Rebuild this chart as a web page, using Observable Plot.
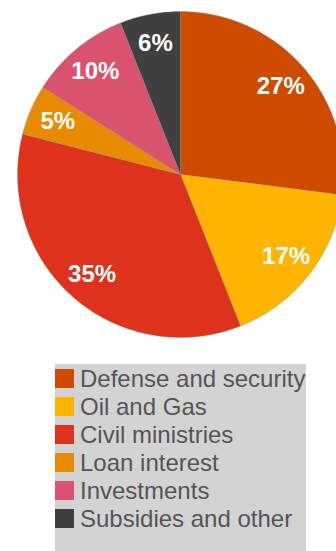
<!DOCTYPE html>
<html>
<head>
<meta charset="utf-8">
<script src="https://cdn.jsdelivr.net/npm/d3@7"></script>
<script src="https://cdn.jsdelivr.net/npm/@observablehq/plot@0.6"></script>
<style>
  html, body { margin: 0; padding: 0; background: #fff; width: 336px; height: 551px; overflow: hidden; }
  #chart svg { display: block; }
  .legend { margin-left: 55px; margin-top: 14px; width: 251px; height: 187px; background: #d3d3d3; padding-top: 1px; box-sizing: border-box; }
  .item { display: flex; align-items: flex-start; height: 28px; line-height: 28px; font-family: Arial, "Liberation Sans", sans-serif; font-size: 24px; color: #555; white-space: nowrap; }
  .sw { width: 19px; height: 19px; margin-top: 4px; margin-right: 6px; flex: none; }
</style>
</head>
<body>
<div id="chart"></div>
<script>
const categories = ["Defense and security", "Oil and Gas", "Civil ministries", "Loan interest", "Investments", "Subsidies and other"];
const shares = [27, 17, 35, 5, 10, 6];
const colors = ["#d04b02", "#ffb400", "#de321d", "#e88a02", "#d9526e", "#404040"];

const W = 336, H = 350, R = 163, CX = 180, CY = 174;
const arcs = d3.pie().sort(null).value(d => d)(shares);

// polygon outline points for each slice (unit radius; y up)
const poly = [];
arcs.forEach((a, i) => {
  const name = categories[i];
  poly.push({name, x: 0, y: 0});
  const n = Math.max(2, Math.ceil((a.endAngle - a.startAngle) / (Math.PI / 180)));
  for (let k = 0; k <= n; k++) {
    const t = a.startAngle + (a.endAngle - a.startAngle) * k / n;
    poly.push({name, x: Math.sin(t), y: Math.cos(t)});
  }
  poly.push({name, x: 0, y: 0});
});

const labels = arcs.map((a, i) => {
  const m = (a.startAngle + a.endAngle) / 2;
  return {x: 0.82 * Math.sin(m), y: 0.82 * Math.cos(m), text: shares[i] + "%"};
});

const chart = Plot.plot({
  width: W,
  height: H,
  margin: 0,
  x: {domain: [-CX / R, (W - CX) / R], axis: null},
  y: {domain: [-(H - CY) / R, CY / R], axis: null},
  color: {domain: categories, range: colors},
  marks: [
    Plot.line(poly, {x: "x", y: "y", z: "name", fill: "name", stroke: "#8a8a8a", strokeWidth: 0.6, strokeOpacity: 0.6, curve: "linear"}),
    Plot.text(labels, {x: "x", y: "y", text: "text", fill: "white", fontSize: 24, fontWeight: "bold", fontFamily: "Arial, 'Liberation Sans', sans-serif"})
  ]
});
document.getElementById("chart").appendChild(chart);

const legend = document.createElement("div");
legend.className = "legend";
categories.forEach((c, i) => {
  const row = document.createElement("div");
  row.className = "item";
  const sw = document.createElement("span");
  sw.className = "sw";
  sw.style.background = colors[i];
  const tx = document.createElement("span");
  tx.textContent = c;
  row.appendChild(sw);
  row.appendChild(tx);
  legend.appendChild(row);
});
document.body.appendChild(legend);
</script>
</body>
</html>
